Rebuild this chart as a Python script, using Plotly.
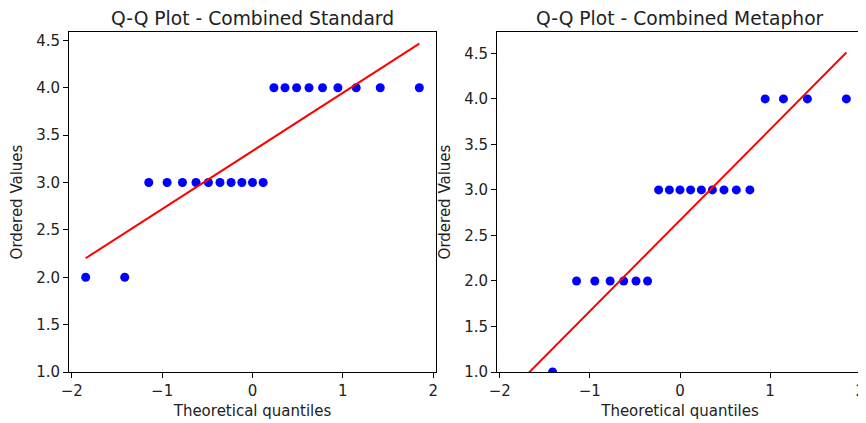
import numpy as np
from statistics import NormalDist
import plotly.graph_objects as go

titles = ["Q-Q Plot - Combined Standard", "Q-Q Plot - Combined Metaphor"]
standard_values = [2, 2, 3, 3, 3, 3, 3, 3, 3, 3, 3, 3, 4, 4, 4, 4, 4, 4, 4, 4, 4]
metaphor_values = [0, 1, 2, 2, 2, 2, 2, 2, 3, 3, 3, 3, 3, 3, 3, 3, 3, 4, 4, 4, 4]
x_ticks = [-2, -1, 0, 1, 2]
y_ticks = [1.0, 1.5, 2.0, 2.5, 3.0, 3.5, 4.0, 4.5]


def theoretical_quantiles(n):
    m = np.empty(n)
    m[-1] = 0.5 ** (1.0 / n)
    m[0] = 1 - m[-1]
    i = np.arange(2, n)
    m[1:-1] = (i - 0.3175) / (n + 0.365)
    nd = NormalDist()
    return np.array([nd.inv_cdf(p) for p in m])


W, H = 866, 423
OFF = 8  # page body margin offset
def px_x(x):
    return (x - OFF) / W
def px_y(y):
    return (H - (y - OFF)) / H

fig = go.Figure()
domains = [(px_x(69), px_x(436)), (px_x(497), px_x(863))]
ydom = (px_y(372), px_y(32))
font = "DejaVu Sans"
fs = 15.0

for k, vals in enumerate([standard_values, metaphor_values]):
    y = np.sort(np.array(vals, dtype=float))
    q = theoretical_quantiles(len(y))
    slope, intercept = np.polyfit(q, y, 1)
    line_y = slope * q + intercept
    xa = "x" if k == 0 else "x2"
    ya = "y" if k == 0 else "y2"
    fig.add_trace(go.Scatter(x=q, y=y, mode="markers", xaxis=xa, yaxis=ya,
                             marker=dict(color="#0000ff", size=9, line=dict(width=0)),
                             showlegend=False))
    fig.add_trace(go.Scatter(x=[q[0], q[-1]], y=[line_y[0], line_y[-1]], mode="lines",
                             xaxis=xa, yaxis=ya, line=dict(color="#ff0000", width=2),
                             showlegend=False))
    xmin, xmax = q.min(), q.max()
    xm = 0.05 * (xmax - xmin)
    ymin = min(y.min(), line_y.min())
    ymax = max(y.max(), line_y.max())
    ytop = ymax + 0.05 * (ymax - ymin)
    axis_common = dict(showline=True, mirror=True, linecolor="black", linewidth=1,
                       ticks="outside", ticklen=5, tickwidth=1, tickcolor="black",
                       showgrid=False, zeroline=False, automargin=False,
                       tickfont=dict(family=font, size=fs, color="#222"))
    xkey = "xaxis" if k == 0 else "xaxis2"
    ykey = "yaxis" if k == 0 else "yaxis2"
    fig.update_layout(**{
        xkey: dict(domain=list(domains[k]), range=[xmin - xm, xmax + xm],
                   tickvals=x_ticks, anchor=ya,
                   title=dict(text="Theoretical quantiles", standoff=6,
                              font=dict(family=font, size=fs, color="#222")),
                   **axis_common),
        ykey: dict(domain=list(ydom), range=[1.0, ytop], tickvals=y_ticks,
                   tickformat=".1f", anchor=xa,
                   title=dict(text="Ordered Values", standoff=9,
                              font=dict(family=font, size=fs, color="#222")),
                   **axis_common),
    })
    fig.add_annotation(text=titles[k], xref="paper", yref="paper",
                       x=(domains[k][0] + domains[k][1]) / 2, y=ydom[1],
                       yshift=1, xanchor="center", yanchor="bottom", showarrow=False,
                       font=dict(family=font, size=18.7, color="#222"))

fig.update_layout(width=W, height=H, margin=dict(l=0, r=0, t=0, b=0),
                  paper_bgcolor="white", plot_bgcolor="white")
fig.write_html("out.html")
